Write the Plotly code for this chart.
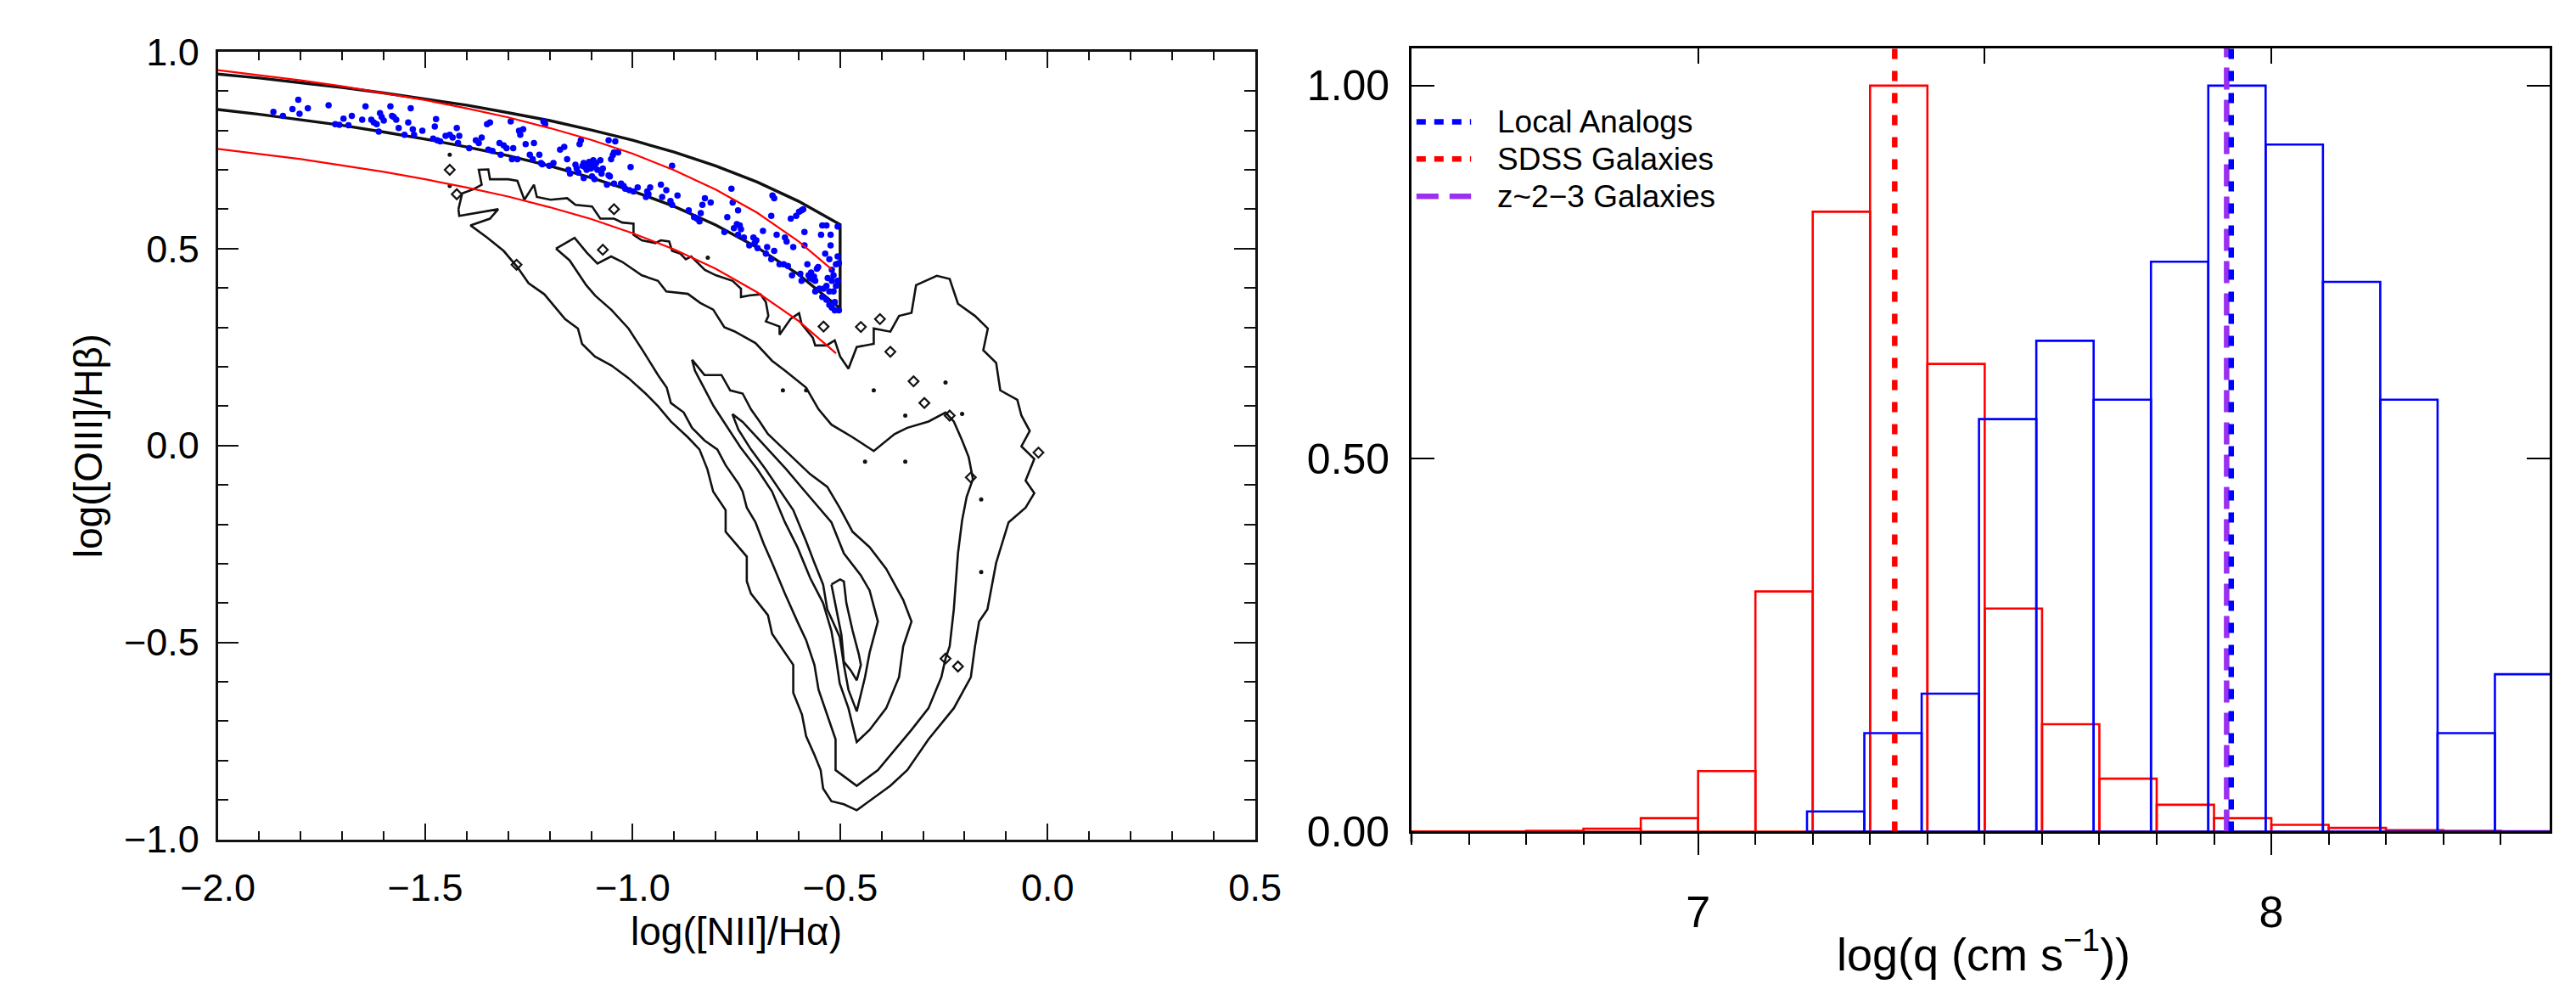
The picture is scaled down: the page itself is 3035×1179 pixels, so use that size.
import plotly.graph_objects as go

FONT = "Liberation Sans, Arial, Helvetica, sans-serif"

# ---------------- Left panel: [OIII]/Hb vs [NII]/Ha ----------------
NII_GRID = [-2.0, -1.9, -1.8, -1.7, -1.6, -1.5, -1.4, -1.3, -1.2, -1.1,
            -1.0, -0.9, -0.8, -0.7, -0.6, -0.5]
BAND_UPPER = [0.943, 0.933, 0.921, 0.909, 0.895, 0.880, 0.864, 0.845, 0.825, 0.801,
              0.775, 0.745, 0.710, 0.669, 0.620, 0.561]
BAND_LOWER = [0.853, 0.841, 0.827, 0.813, 0.796, 0.778, 0.758, 0.736, 0.710, 0.680,
              0.646, 0.607, 0.560, 0.503, 0.434, 0.348]

RED_UPPER_X = [-2.0, -1.9, -1.8, -1.7, -1.6, -1.5, -1.4, -1.3, -1.2, -1.1,
               -1.0, -0.9, -0.8, -0.7, -0.6, -0.52]
RED_UPPER_Y = [0.953, 0.940, 0.927, 0.912, 0.895, 0.877, 0.856, 0.833, 0.806, 0.776,
               0.741, 0.699, 0.650, 0.591, 0.518, 0.447]
RED_LOWER_X = [-2.0, -1.9, -1.8, -1.7, -1.6, -1.5, -1.4, -1.3, -1.2, -1.1,
               -1.0, -0.9, -0.8, -0.7, -0.6, -0.51]
RED_LOWER_Y = [0.753, 0.740, 0.727, 0.711, 0.695, 0.676, 0.655, 0.632, 0.605, 0.575,
               0.539, 0.498, 0.449, 0.389, 0.316, 0.234]

LOCAL_ANALOGS = [
    (-1.866, 0.847), (-1.843, 0.837), (-1.820, 0.854), (-1.806, 0.878), (-1.803, 0.842),
    (-1.783, 0.856), (-1.733, 0.864), (-1.717, 0.816), (-1.707, 0.814), (-1.697, 0.830),
    (-1.685, 0.813), (-1.677, 0.837), (-1.652, 0.827), (-1.644, 0.861), (-1.630, 0.827),
    (-1.624, 0.820), (-1.617, 0.816), (-1.612, 0.797), (-1.609, 0.844), (-1.605, 0.834),
    (-1.600, 0.825), (-1.584, 0.861), (-1.580, 0.837), (-1.576, 0.834), (-1.570, 0.827),
    (-1.564, 0.806), (-1.550, 0.789), (-1.541, 0.820), (-1.535, 0.856), (-1.530, 0.803),
    (-1.527, 0.789), (-1.507, 0.799), (-1.477, 0.810), (-1.474, 0.829), (-1.481, 0.779),
    (-1.471, 0.775), (-1.464, 0.772), (-1.451, 0.786), (-1.441, 0.789), (-1.434, 0.782),
    (-1.424, 0.806), (-1.421, 0.768), (-1.418, 0.786), (-1.394, 0.755), (-1.378, 0.775),
    (-1.371, 0.768), (-1.364, 0.782), (-1.351, 0.816), (-1.344, 0.820), (-1.348, 0.751),
    (-1.338, 0.748), (-1.321, 0.768), (-1.318, 0.738), (-1.311, 0.762), (-1.304, 0.755),
    (-1.294, 0.823), (-1.288, 0.755), (-1.291, 0.727), (-1.278, 0.727), (-1.274, 0.799),
    (-1.271, 0.789), (-1.264, 0.803), (-1.258, 0.765), (-1.248, 0.738), (-1.241, 0.727),
    (-1.238, 0.768), (-1.225, 0.738), (-1.221, 0.717), (-1.218, 0.714), (-1.215, 0.823),
    (-1.211, 0.816), (-1.201, 0.710),
    (-1.175, 0.751), (-1.165, 0.758), (-1.158, 0.727), (-1.191, 0.717), (-1.128, 0.765),
    (-1.125, 0.775), (-1.155, 0.700), (-1.151, 0.690), (-1.138, 0.713), (-1.135, 0.703),
    (-1.131, 0.693), (-1.121, 0.710), (-1.118, 0.717), (-1.115, 0.707), (-1.111, 0.700),
    (-1.108, 0.713), (-1.105, 0.720), (-1.101, 0.703), (-1.098, 0.713), (-1.095, 0.724),
    (-1.092, 0.707), (-1.088, 0.717), (-1.085, 0.700), (-1.078, 0.724), (-1.075, 0.690),
    (-1.072, 0.703), (-1.118, 0.679), (-1.098, 0.683), (-1.092, 0.676), (-1.062, 0.662),
    (-1.058, 0.686), (-1.055, 0.683), (-1.052, 0.727), (-1.048, 0.737), (-1.045, 0.744),
    (-1.042, 0.772), (-1.058, 0.775), (-1.035, 0.744), (-1.045, 0.665), (-1.028, 0.665),
    (-1.022, 0.659), (-1.018, 0.652), (-1.005, 0.707), (-1.008, 0.648), (-0.998, 0.645),
    (-0.988, 0.655), (-0.968, 0.631), (-0.962, 0.638), (-0.958, 0.655), (-0.965, 0.645),
    (-0.932, 0.662), (-0.929, 0.631), (-0.919, 0.648), (-0.905, 0.710), (-0.909, 0.621),
    (-0.905, 0.611), (-0.892, 0.635), (-0.865, 0.597), (-0.852, 0.580), (-0.845, 0.576),
    (-0.839, 0.569), (-0.836, 0.590), (-0.832, 0.611), (-0.826, 0.628), (-0.812, 0.617),
    (-0.779, 0.542), (-0.772, 0.580), (-0.762, 0.652), (-0.759, 0.617), (-0.756, 0.552),
    (-0.749, 0.562), (-0.746, 0.597), (-0.742, 0.559), (-0.739, 0.549), (-0.746, 0.535),
    (-0.732, 0.528), (-0.719, 0.508), (-0.709, 0.528), (-0.706, 0.514), (-0.702, 0.521),
    (-0.699, 0.501), (-0.686, 0.545), (-0.679, 0.487), (-0.676, 0.504), (-0.666, 0.583),
    (-0.663, 0.635), (-0.659, 0.628), (-0.666, 0.473), (-0.659, 0.494), (-0.653, 0.535),
    (-0.646, 0.460), (-0.636, 0.460), (-0.633, 0.528), (-0.629, 0.518), (-0.626, 0.456),
    (-0.619, 0.576), (-0.616, 0.432), (-0.613, 0.504), (-0.606, 0.583), (-0.599, 0.593),
    (-0.593, 0.597), (-0.589, 0.600), (-0.586, 0.542), (-0.596, 0.436), (-0.593, 0.418),
    (-0.586, 0.508), (-0.579, 0.460), (-0.576, 0.432), (-0.573, 0.425), (-0.570, 0.439),
    (-0.566, 0.422), (-0.563, 0.429), (-0.560, 0.418), (-0.556, 0.449), (-0.553, 0.453),
    (-0.550, 0.398), (-0.546, 0.535), (-0.543, 0.559), (-0.540, 0.398), (-0.536, 0.487),
    (-0.533, 0.559), (-0.530, 0.425), (-0.526, 0.391), (-0.523, 0.535), (-0.523, 0.508),
    (-0.526, 0.473), (-0.520, 0.446), (-0.520, 0.418), (-0.516, 0.432), (-0.516, 0.391),
    (-0.513, 0.364), (-0.513, 0.343), (-0.506, 0.556), (-0.506, 0.480), (-0.506, 0.418),
    (-0.503, 0.463), (-0.510, 0.460), (-0.510, 0.405), (-0.520, 0.350), (-0.503, 0.343),
    (-0.560, 0.391), (-0.543, 0.377), (-0.533, 0.405), (-0.533, 0.370), (-0.526, 0.357),
]

# SDSS density contours, outermost to innermost
SDSS_CONTOUR_1 = [
    (-1.420, 0.600), (-1.411, 0.640), (-1.385, 0.650), (-1.364, 0.662), (-1.371, 0.700),
    (-1.348, 0.701), (-1.344, 0.676), (-1.300, 0.676), (-1.278, 0.672), (-1.261, 0.624),
    (-1.238, 0.662), (-1.231, 0.631), (-1.198, 0.624), (-1.158, 0.628), (-1.138, 0.611),
    (-1.098, 0.607), (-1.078, 0.576), (-1.045, 0.576), (-1.025, 0.566), (-0.998, 0.563),
    (-0.998, 0.535), (-0.978, 0.521), (-0.945, 0.514), (-0.932, 0.521), (-0.912, 0.518),
    (-0.905, 0.494), (-0.885, 0.487), (-0.872, 0.473), (-0.859, 0.480), (-0.826, 0.446),
    (-0.799, 0.432), (-0.759, 0.418), (-0.739, 0.398), (-0.739, 0.377), (-0.719, 0.381),
    (-0.692, 0.384), (-0.679, 0.364), (-0.673, 0.329), (-0.679, 0.315), (-0.646, 0.302),
    (-0.646, 0.281), (-0.619, 0.322), (-0.599, 0.336), (-0.593, 0.309), (-0.566, 0.274),
    (-0.560, 0.254), (-0.533, 0.254), (-0.513, 0.267), (-0.500, 0.226), (-0.480, 0.195),
    (-0.460, 0.250), (-0.419, 0.258), (-0.419, 0.297), (-0.379, 0.289), (-0.358, 0.329),
    (-0.328, 0.337), (-0.317, 0.407), (-0.267, 0.431), (-0.236, 0.423), (-0.216, 0.360),
    (-0.175, 0.329), (-0.144, 0.297), (-0.155, 0.242), (-0.124, 0.210), (-0.114, 0.140),
    (-0.073, 0.116), (-0.063, 0.076), (-0.043, 0.037), (-0.063, -0.002), (-0.032, -0.034),
    (-0.053, -0.089), (-0.032, -0.121), (-0.053, -0.158), (-0.094, -0.195), (-0.124, -0.298),
    (-0.145, -0.416), (-0.165, -0.447), (-0.175, -0.510), (-0.185, -0.588), (-0.226, -0.667),
    (-0.287, -0.746), (-0.338, -0.824), (-0.379, -0.864), (-0.429, -0.903), (-0.460, -0.926),
    (-0.491, -0.911), (-0.521, -0.903), (-0.541, -0.871), (-0.547, -0.824), (-0.562, -0.785),
    (-0.582, -0.738), (-0.592, -0.683), (-0.613, -0.628), (-0.613, -0.557), (-0.664, -0.478),
    (-0.674, -0.431), (-0.715, -0.376), (-0.725, -0.345), (-0.725, -0.282), (-0.776, -0.219),
    (-0.776, -0.164), (-0.806, -0.117), (-0.820, -0.060), (-0.839, -0.010), (-0.867, 0.021),
    (-0.908, 0.061), (-0.939, 0.100), (-0.969, 0.132), (-1.010, 0.171), (-1.051, 0.203),
    (-1.091, 0.226), (-1.122, 0.258), (-1.132, 0.297), (-1.163, 0.321), (-1.198, 0.364),
    (-1.213, 0.384), (-1.251, 0.412), (-1.278, 0.453), (-1.311, 0.494), (-1.351, 0.528),
    (-1.391, 0.559), (-1.344, 0.576), (-1.324, 0.600), (-1.384, 0.590), (-1.418, 0.583),
    (-1.420, 0.600),
]
SDSS_CONTOUR_2 = [
    (-1.185, 0.500), (-1.140, 0.527), (-1.111, 0.490), (-1.085, 0.462), (-1.052, 0.480),
    (-1.025, 0.466), (-0.978, 0.432), (-0.939, 0.418), (-0.919, 0.391), (-0.867, 0.385),
    (-0.837, 0.362), (-0.806, 0.345), (-0.779, 0.300), (-0.755, 0.290), (-0.704, 0.260),
    (-0.664, 0.215), (-0.633, 0.190), (-0.582, 0.147), (-0.552, 0.092), (-0.521, 0.053),
    (-0.470, 0.021), (-0.419, -0.014), (-0.369, 0.029), (-0.338, 0.045), (-0.287, 0.061),
    (-0.246, 0.084), (-0.226, 0.061), (-0.206, 0.013), (-0.190, -0.030), (-0.180, -0.085),
    (-0.195, -0.130), (-0.206, -0.190), (-0.216, -0.274), (-0.226, -0.416), (-0.236, -0.510),
    (-0.246, -0.541), (-0.256, -0.588), (-0.287, -0.667), (-0.328, -0.722), (-0.379, -0.785),
    (-0.409, -0.824), (-0.460, -0.864), (-0.511, -0.824), (-0.511, -0.746), (-0.531, -0.683),
    (-0.552, -0.620), (-0.562, -0.557), (-0.582, -0.494), (-0.603, -0.447), (-0.633, -0.376),
    (-0.664, -0.298), (-0.684, -0.250), (-0.704, -0.195), (-0.725, -0.158), (-0.735, -0.117),
    (-0.745, -0.097), (-0.776, -0.050), (-0.796, -0.010), (-0.827, 0.013), (-0.857, 0.045),
    (-0.877, 0.084), (-0.908, 0.108), (-0.918, 0.147), (-0.939, 0.179), (-0.975, 0.240),
    (-1.010, 0.297), (-1.051, 0.344), (-1.090, 0.380), (-1.112, 0.407), (-1.152, 0.470),
    (-1.185, 0.500),
]
SDSS_CONTOUR_3 = [
    (-0.857, 0.218), (-0.827, 0.179), (-0.786, 0.179), (-0.765, 0.140), (-0.735, 0.132),
    (-0.715, 0.092), (-0.694, 0.061), (-0.674, 0.029), (-0.643, -0.002), (-0.603, -0.042),
    (-0.572, -0.073), (-0.531, -0.105), (-0.501, -0.158), (-0.470, -0.219), (-0.429, -0.258),
    (-0.389, -0.313), (-0.348, -0.392), (-0.328, -0.447), (-0.348, -0.510), (-0.358, -0.588),
    (-0.389, -0.667), (-0.429, -0.722), (-0.460, -0.753), (-0.480, -0.667), (-0.501, -0.604),
    (-0.511, -0.533), (-0.521, -0.471), (-0.541, -0.400), (-0.572, -0.337), (-0.603, -0.258),
    (-0.633, -0.195), (-0.664, -0.117), (-0.700, -0.060), (-0.740, -0.005), (-0.775, 0.050),
    (-0.805, 0.100), (-0.830, 0.150), (-0.850, 0.190), (-0.857, 0.218),
]
SDSS_CONTOUR_4 = [
    (-0.760, 0.080), (-0.735, 0.060), (-0.700, 0.020), (-0.665, -0.020), (-0.630, -0.060),
    (-0.590, -0.110), (-0.550, -0.160), (-0.521, -0.195), (-0.491, -0.274), (-0.450, -0.330),
    (-0.429, -0.368), (-0.409, -0.447), (-0.429, -0.526), (-0.440, -0.588), (-0.460, -0.675),
    (-0.480, -0.620), (-0.491, -0.557), (-0.501, -0.486), (-0.531, -0.416), (-0.541, -0.353),
    (-0.562, -0.298), (-0.582, -0.243), (-0.613, -0.164), (-0.643, -0.117), (-0.680, -0.060),
    (-0.715, -0.010), (-0.745, 0.040), (-0.760, 0.080),
]
SDSS_CONTOUR_5 = [
    (-0.521, -0.353), (-0.500, -0.340), (-0.491, -0.345), (-0.485, -0.400), (-0.470, -0.470),
    (-0.455, -0.530), (-0.450, -0.557), (-0.460, -0.596), (-0.475, -0.570), (-0.491, -0.549),
    (-0.497, -0.480), (-0.508, -0.420), (-0.521, -0.353),
]
# small isolated closed contours and single-cell specks of the outer level
SDSS_ISLANDS = [
    (-1.441, 0.700), (-1.424, 0.638), (-1.280, 0.459), (-1.045, 0.600), (-1.072, 0.497),
    (-0.540, 0.302), (-0.404, 0.321), (-0.450, 0.301), (-0.379, 0.238), (-0.323, 0.163),
    (-0.297, 0.108), (-0.236, 0.076), (-0.185, -0.081), (-0.022, -0.018), (-0.246, -0.541),
    (-0.216, -0.561),
]
SDSS_SPECKS = [
    (-1.441, 0.738), (-1.441, 0.659), (-0.819, 0.477), (-0.638, 0.140), (-0.582, 0.140),
    (-0.419, 0.140), (-0.246, 0.160), (-0.343, 0.076), (-0.206, 0.080), (-0.440, -0.041),
    (-0.343, -0.041), (-0.160, -0.137), (-0.160, -0.321),
]

# ---------------- Right panel: ionization parameter histograms ----------------
BIN_WIDTH = 0.1
SDSS_Q_CENTERS = [6.55, 6.65, 6.75, 6.85, 6.95, 7.05, 7.15, 7.25, 7.35, 7.45,
                  7.55, 7.65, 7.75, 7.85, 7.95, 8.05, 8.15, 8.25, 8.35, 8.45]
SDSS_Q_FRAC = [0.0003, 0.0003, 0.001, 0.004, 0.018, 0.081, 0.322, 0.831, 1.000, 0.627,
               0.299, 0.144, 0.071, 0.036, 0.018, 0.009, 0.005, 0.002, 0.001, 0.0005]
LOCAL_Q_CENTERS = [7.24, 7.34, 7.44, 7.54, 7.64, 7.74, 7.84, 7.94, 8.04, 8.14,
                   8.24, 8.34, 8.44]
LOCAL_Q_FRAC = [0.027, 0.132, 0.185, 0.553, 0.658, 0.579, 0.764, 1.000, 0.921, 0.737,
                0.579, 0.132, 0.211]
MEDIAN_NAMES = ["Local Analogs", "SDSS Galaxies", "z~2\u22123 Galaxies"]
MEDIAN_LOGQ = [7.930, 7.343, 7.922]
MEDIAN_COLORS = ["#0000ff", "#ff0000", "#9b30f0"]
MEDIAN_DASH = ["12px,14px", "12px,14px", "26px,12px"]
LEGEND_DASH = ["11px,10px", "11px,10px", "26px,13px"]

fig = go.Figure()


def unzip(pairs):
    return [p[0] for p in pairs], [p[1] for p in pairs]


def line(xs, ys, color, width, xa="x", ya="y", dash=None):
    fig.add_trace(go.Scatter(x=xs, y=ys, mode="lines",
                             line=dict(color=color, width=width, dash=dash),
                             xaxis=xa, yaxis=ya, showlegend=False, hoverinfo="skip"))


# contours
for contour in (SDSS_CONTOUR_1, SDSS_CONTOUR_2, SDSS_CONTOUR_3, SDSS_CONTOUR_4, SDSS_CONTOUR_5):
    cx, cy = unzip(contour)
    line(cx, cy, "#111111", 2.6)
ix, iy = unzip(SDSS_ISLANDS)
fig.add_trace(go.Scatter(x=ix, y=iy, mode="markers", xaxis="x", yaxis="y",
                         marker=dict(symbol="diamond-open", size=9, color="#111111",
                                     line=dict(width=2.2, color="#111111")),
                         showlegend=False, hoverinfo="skip"))
sx, sy = unzip(SDSS_SPECKS)
fig.add_trace(go.Scatter(x=sx, y=sy, mode="markers", xaxis="x", yaxis="y",
                         marker=dict(symbol="circle", size=5, color="#111111"),
                         showlegend=False, hoverinfo="skip"))

# selection band (closed at the right end)
line(NII_GRID + NII_GRID[::-1], BAND_UPPER + BAND_LOWER[::-1], "#111111", 3.4)

# local analog galaxies
ax_, ay_ = unzip(LOCAL_ANALOGS)
fig.add_trace(go.Scatter(x=ax_, y=ay_, mode="markers", xaxis="x", yaxis="y",
                         marker=dict(symbol="circle", size=7.5, color="#0000ff"),
                         showlegend=False, hoverinfo="skip"))

# red reference curves
line(RED_UPPER_X, RED_UPPER_Y, "#ff0000", 2.2)
line(RED_LOWER_X, RED_LOWER_Y, "#ff0000", 2.2)

# histograms
fig.add_trace(go.Bar(x=SDSS_Q_CENTERS, y=SDSS_Q_FRAC, width=BIN_WIDTH, xaxis="x2", yaxis="y2",
                     marker=dict(color="rgba(0,0,0,0)", line=dict(color="#ff0000", width=2.6)),
                     showlegend=False, hoverinfo="skip"))
fig.add_trace(go.Bar(x=LOCAL_Q_CENTERS, y=LOCAL_Q_FRAC, width=BIN_WIDTH, xaxis="x2", yaxis="y2",
                     marker=dict(color="rgba(0,0,0,0)", line=dict(color="#0000ff", width=2.6)),
                     showlegend=False, hoverinfo="skip"))

# median lines: SDSS, z~2-3, local analogs (local drawn last)
for i in (1, 2, 0):
    line([MEDIAN_LOGQ[i], MEDIAN_LOGQ[i]], [0, 1.05], MEDIAN_COLORS[i], 6.5,
         xa="x2", ya="y2", dash=MEDIAN_DASH[i])

# empty traces that register the mirrored frame axes
for xa, ya in (("x3", "y"), ("x", "y3"), ("x4", "y2")):
    fig.add_trace(go.Scatter(x=[None], y=[None], xaxis=xa, yaxis=ya,
                             showlegend=False, hoverinfo="skip"))

FRAME = "#111111"
left_x_common = dict(range=[-2.0, 0.5], tick0=-2.0, dtick=0.5, ticks="inside", ticklen=19,
                     tickwidth=2, tickcolor=FRAME, showline=True, linecolor=FRAME, linewidth=2.6,
                     minor=dict(ticks="inside", dtick=0.1, ticklen=10, tickwidth=2,
                                tickcolor=FRAME, showgrid=False),
                     showgrid=False, zeroline=False)
left_y_common = dict(range=[-1.0, 1.0], tick0=-1.0, dtick=0.5, ticks="inside", ticklen=25,
                     tickwidth=2, tickcolor=FRAME, showline=True, linecolor=FRAME, linewidth=2.6,
                     minor=dict(ticks="inside", dtick=0.1, ticklen=13, tickwidth=2,
                                tickcolor=FRAME, showgrid=False),
                     showgrid=False, zeroline=False)

fig.update_layout(
    width=3035, height=1179,
    margin=dict(l=0, r=0, t=0, b=0),
    paper_bgcolor="white", plot_bgcolor="rgba(0,0,0,0)",
    showlegend=False, barmode="overlay",
    font=dict(family=FONT, color="black"),
    xaxis=dict(domain=[0.071829, 0.484679], anchor="y", tickformat=".1f",
               tickfont=dict(size=45, family=FONT, color="black"), ticklabelstandoff=16,
               **left_x_common),
    xaxis3=dict(overlaying="x", side="top", anchor="y", showticklabels=False, **left_x_common),
    yaxis=dict(domain=[0.144190, 0.968194], anchor="x", tickformat=".1f",
               tickfont=dict(size=45, family=FONT, color="black"), ticklabelstandoff=10,
               **left_y_common),
    yaxis3=dict(overlaying="y", side="right", anchor="x", showticklabels=False, **left_y_common),
    xaxis2=dict(domain=[0.546952, 1.0], anchor="y2", range=[6.5, 8.48556],
                tick0=7, dtick=1, ticks="outside", ticklen=25, tickwidth=2.4, tickcolor="black",
                minor=dict(ticks="outside", dtick=0.1, ticklen=13, tickwidth=2.4,
                           tickcolor="black", showgrid=False),
                showline=True, linecolor="black", linewidth=2.6, showgrid=False, zeroline=False,
                tickfont=dict(size=52, family=FONT, color="black"), ticklabelstandoff=22),
    xaxis4=dict(overlaying="x2", side="top", anchor="y2", range=[6.5, 8.48556],
                tick0=6.5, dtick=0.5, ticks="inside", ticklen=18, tickwidth=2.4,
                tickcolor="black", showline=True, linecolor="black", linewidth=2.6,
                showticklabels=False, showgrid=False, zeroline=False),
    yaxis2=dict(domain=[0.152332, 0.971586], anchor="x2", range=[0, 1.05],
                tickvals=[0.0, 0.5, 1.0], tickformat=".2f", ticks="inside", ticklen=27,
                tickwidth=2.4, tickcolor="black", mirror="ticks", showline=True,
                linecolor="black", linewidth=2.6, showgrid=False, zeroline=False,
                tickfont=dict(size=50, family=FONT, color="black"), ticklabelstandoff=13),
)

annotations = [
    dict(text="log([NII]/H\u03b1)", x=0.5, xref="x domain", y=0.0483, yref="paper",
         xanchor="center", yanchor="middle", showarrow=False, font=dict(size=46, family=FONT)),
    dict(text="log([OIII]/H\u03b2)", x=0.0201, xref="paper", y=0.5, yref="y domain",
         xanchor="center", yanchor="middle", textangle=-90, showarrow=False,
         font=dict(size=46, family=FONT)),
    dict(text="log(q (cm s<sup>\u22121</sup>))", x=0.7746, xref="paper", y=0.0271, yref="paper",
         xanchor="center", yanchor="middle", showarrow=False, font=dict(size=54, family=FONT)),
]
shapes = [
    # small extension of the left frame below the histogram baseline
    dict(type="line", xref="x2 domain", yref="y2 domain", x0=0, x1=0, y0=0, y1=-0.0135,
         line=dict(color="black", width=2.6)),
]
legend_y = [0.8948, 0.8558, 0.8168]
for name, color, dash, ly in zip(MEDIAN_NAMES, MEDIAN_COLORS, LEGEND_DASH, legend_y):
    shapes.append(dict(type="line", xref="paper", yref="paper", x0=0.54893, x1=0.57068,
                       y0=ly, y1=ly, line=dict(color=color, width=6.5, dash=dash)))
    annotations.append(dict(text=name, x=0.58056, xref="paper", y=ly, yref="paper",
                            xanchor="left", yanchor="middle", showarrow=False,
                            font=dict(size=37, family=FONT, color="black")))

fig.update_layout(annotations=annotations, shapes=shapes)
fig.write_html("out.html")
